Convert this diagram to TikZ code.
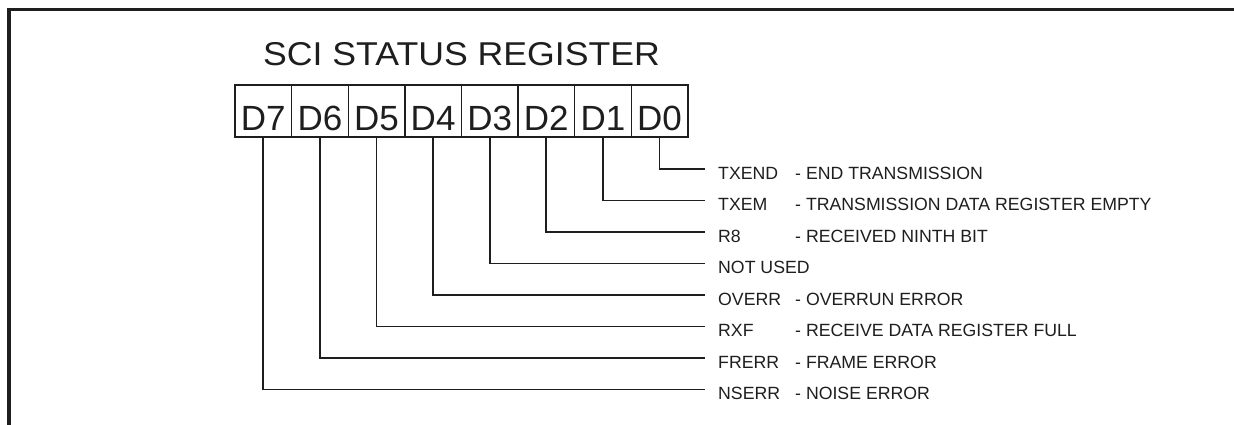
\documentclass[tikz,border=0pt]{standalone}
\usepackage{fontspec}
\setmainfont{Liberation Sans}
\newfontfamily\titlefont[FakeStretch=1.08]{Liberation Sans}
\definecolor{ink}{HTML}{1E1E1E}
\begin{document}
\begin{tikzpicture}[x=1pt,y=-1pt,
  cell/.style={draw=ink, line width=1.4pt, minimum width=56.6pt, inner xsep=0pt,
    inner ysep=7pt, text height=38pt, text depth=0pt, text=ink,
    font=\fontsize{35}{38}\selectfont},
  lbl/.style={anchor=west, inner xsep=13pt, inner ysep=0pt, text height=20pt,
    text depth=0pt, text=ink, font=\fontsize{17.7}{20}\selectfont},
  lead/.style={draw=ink, line width=1.7pt},
  frame/.style={draw=ink, line width=3.2pt}]
\useasboundingbox (0,0) rectangle (1234,424);
\clip (0,0) rectangle (1234,424);
\draw[frame] (9,440) -- (9,9.5) -- (1250,9.5);
\node[anchor=base, text=ink, font=\titlefont\fontsize{33}{36}\selectfont] (title) at (461.5,65) {SCI STATUS REGISTER};
\foreach \b [count=\k from 0] in {7,6,5,4,3,2,1,0}{
  \node[cell] (d\b) at ({235+56.6*(\k+0.5)},111) {D\b};
}
\newcommand{\nm}[1]{\makebox[77pt][l]{#1}}
\node[lbl] (l0) at (705,169.0) {\nm{TXEND}- END TRANSMISSION};
\node[lbl] (l1) at (705,200.5) {\nm{TXEM}- TRANSMISSION DATA REGISTER EMPTY};
\node[lbl] (l2) at (705,232.0) {\nm{R8}- RECEIVED NINTH BIT};
\node[lbl] (l3) at (705,263.5) {NOT USED};
\node[lbl] (l4) at (705,295.0) {\nm{OVERR}- OVERRUN ERROR};
\node[lbl] (l5) at (705,326.5) {\nm{RXF}- RECEIVE DATA REGISTER FULL};
\node[lbl] (l6) at (705,358.0) {\nm{FRERR}- FRAME ERROR};
\node[lbl] (l7) at (705,389.5) {\nm{NSERR}- NOISE ERROR};
\foreach \b in {0,...,7}{
  \draw[lead] (d\b.south) |- (l\b.west);
}
\end{tikzpicture}
\end{document}
